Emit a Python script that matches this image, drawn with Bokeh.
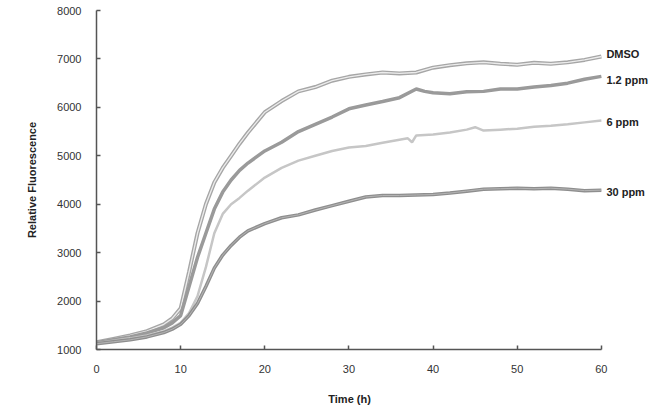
from bokeh.plotting import figure
from bokeh.models import Range1d, FixedTicker, ColumnDataSource, LabelSet
from bokeh.core.properties import value
from bokeh.embed import file_html
from bokeh.resources import INLINE

# ---- data ----
t_dmso = [0, 2, 4, 6, 8, 9, 10, 11, 12, 13, 14, 15, 16, 17, 18, 20, 22, 24, 26, 28, 30,
          32, 34, 36, 38, 40, 42, 44, 46, 48, 50, 52, 54, 56, 58, 60]
v_dmso = [1150, 1220, 1290, 1380, 1520, 1640, 1850, 2600, 3400, 4000, 4450, 4750, 5000, 5250, 5480,
          5900, 6130, 6330, 6420, 6550, 6630, 6680, 6720, 6700, 6720, 6820, 6870, 6910, 6930, 6900,
          6880, 6920, 6900, 6930, 6980, 7050]

t_12 = [0, 2, 4, 6, 8, 9, 10, 11, 12, 13, 14, 15, 16, 17, 18, 20, 22, 24, 26, 28, 30,
        32, 34, 36, 38, 39, 40, 42, 44, 46, 48, 50, 52, 54, 56, 58, 60]
v_12 = [1140, 1200, 1260, 1340, 1450, 1550, 1700, 2300, 2900, 3400, 3900, 4250, 4500, 4700, 4850,
        5100, 5280, 5500, 5650, 5800, 5970, 6050, 6120, 6200, 6380, 6330, 6300, 6280, 6320, 6330,
        6380, 6380, 6420, 6450, 6500, 6580, 6640]

t_6 = [0, 2, 4, 6, 8, 9, 10, 11, 12, 13, 14, 15, 16, 17, 18, 20, 22, 24, 26, 28, 30,
       32, 34, 36, 37, 37.5, 38, 40, 42, 44, 45, 46, 48, 50, 52, 54, 56, 58, 60]
v_6 = [1130, 1180, 1230, 1290, 1380, 1450, 1550, 1750, 2100, 2700, 3400, 3800, 4000, 4130, 4280,
       4550, 4750, 4900, 5000, 5100, 5170, 5200, 5270, 5330, 5360, 5280, 5420, 5440, 5480, 5540,
       5590, 5520, 5540, 5560, 5600, 5620, 5650, 5690, 5730]

t_30 = [0, 2, 4, 6, 8, 9, 10, 11, 12, 13, 14, 15, 16, 17, 18, 20, 22, 24, 26, 28, 30,
        32, 34, 36, 38, 40, 42, 44, 46, 48, 50, 52, 54, 56, 58, 60]
v_30 = [1120, 1160, 1200, 1260, 1350, 1420, 1520, 1700, 1950, 2300, 2680, 2950, 3150, 3320, 3450,
        3600, 3720, 3780, 3880, 3970, 4060, 4150, 4180, 4180, 4190, 4200, 4230, 4270, 4310, 4320,
        4330, 4320, 4330, 4310, 4280, 4290]

series_labels = ["DMSO", "1.2 ppm", "6 ppm", "30 ppm"]
x_ticks = [0, 10, 20, 30, 40, 50, 60]
y_ticks = [1000, 2000, 3000, 4000, 5000, 6000, 7000, 8000]

FONT = "Liberation Sans"

p = figure(width=648, height=410, output_backend="svg", toolbar_location=None,
           x_range=Range1d(0, 65.6), y_range=Range1d(1000, 8000),
           min_border_left=96, min_border_right=0, min_border_top=10, min_border_bottom=61)
p.outline_line_color = None
p.xgrid.visible = False
p.ygrid.visible = False
p.background_fill_color = "white"

for ax in (p.xaxis[0], p.yaxis[0]):
    ax.axis_line_color = "#555555"
    ax.axis_line_width = 1.5
    ax.major_tick_line_color = "#555555"
    ax.major_tick_line_width = 1.5
    ax.major_tick_in = 4
    ax.major_tick_out = 0
    ax.minor_tick_line_color = None
    ax.major_label_text_font = FONT
    ax.major_label_text_font_size = "11px"
    ax.major_label_text_color = "#333333"
    ax.axis_label_text_font = FONT
    ax.axis_label_text_font_size = "11px"
    ax.axis_label_text_font_style = "bold"
    ax.axis_label_text_color = "#222222"

p.xaxis.bounds = (0, 60)
p.yaxis.bounds = (1000, 8000)
p.xaxis.ticker = FixedTicker(ticks=x_ticks)
p.yaxis.ticker = FixedTicker(ticks=y_ticks)
p.xaxis.major_label_standoff = 15
p.yaxis.major_label_standoff = 15
# trailing no-break spaces keep the title centred under the 0-60 span of the axis
p.xaxis.axis_label = "Time (h)" + "\u00a0" * 15
p.yaxis.axis_label = "Relative Fluorescence"
p.xaxis.axis_label_standoff = 17
p.yaxis.axis_label_standoff = 16

# curves
p.line(t_dmso, v_dmso, line_color="#a6a6a6", line_width=4)
p.line(t_dmso, v_dmso, line_color="#ececec", line_width=1.3)
p.line(t_12, v_12, line_color="#9a9a9a", line_width=3.5)
p.line(t_6, v_6, line_color="#c6c6c6", line_width=2.5)
p.line(t_30, v_30, line_color="#8e8e8e", line_width=3.5)
p.line(t_30, v_30, line_color="#b4b4b4", line_width=1)

# end labels
lab_src = ColumnDataSource(dict(
    x=[t_dmso[-1], t_12[-1], t_6[-1], t_30[-1]],
    y=[v_dmso[-1] + 60, v_12[-1] - 80, v_6[-1] - 40, v_30[-1] - 30],
    text=series_labels))
labels = LabelSet(x="x", y="y", text="text", source=lab_src, x_offset=5,
                  text_font=value(FONT), text_font_size=value("11px"),
                  text_font_style=value("bold"), text_color=value("#222222"),
                  text_baseline=value("middle"), text_align=value("left"))
p.add_layout(labels)

open("out.html", "w").write(file_html(p, INLINE))
